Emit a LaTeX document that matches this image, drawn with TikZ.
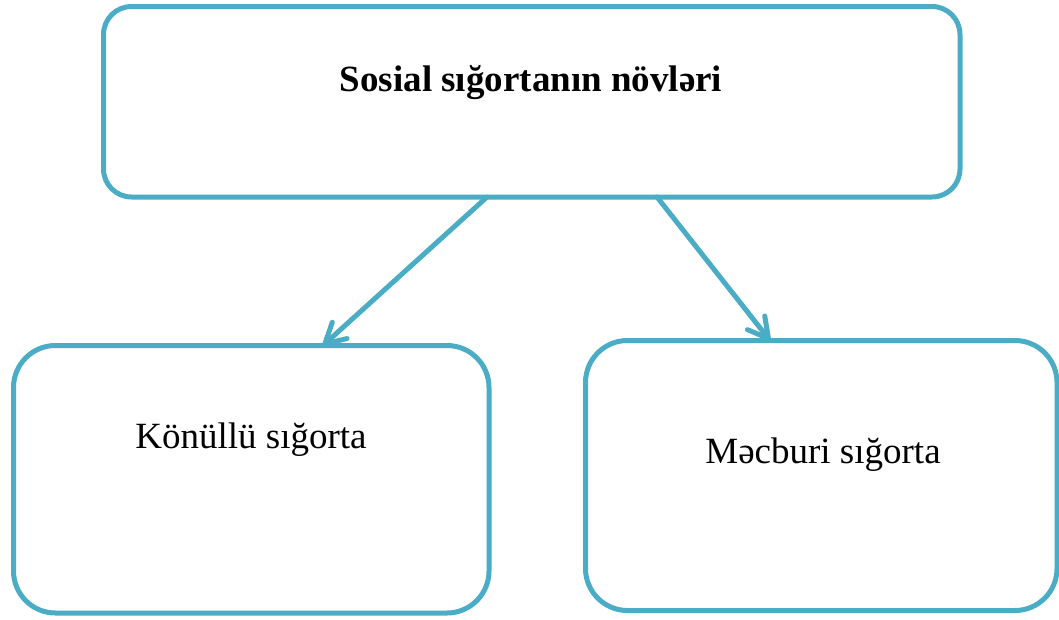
\documentclass[tikz,border=0pt]{standalone}
\usepackage{fontspec}
\setmainfont{Liberation Serif}
\usetikzlibrary{arrows.meta}
\definecolor{accent}{HTML}{4BACC6}
\tikzset{
  box/.style={draw=accent, line width=5pt, rounded corners=#1, outer sep=0pt,
              inner sep=0pt, fill=white},
  caption/.style={font=\fontsize{37}{44}\selectfont, inner sep=0pt, anchor=center},
  link/.style={draw=accent, line width=5pt, line cap=round,
               -{Straight Barb[length=20pt, width=22pt, line width=5pt, round]}},
}
\begin{document}
\begin{tikzpicture}[x=1pt, y=-1pt]
  \useasboundingbox (0,0) rectangle (1059,619);

  % boxes
  \node[box=28pt, minimum width=856.5pt, minimum height=190.5pt] (top)   at (531.75,101.75) {};
  \node[box=42pt, minimum width=475.5pt, minimum height=267.5pt] (left)  at (251.25,479.25) {};
  \node[box=42pt, minimum width=471.5pt, minimum height=270pt]   (right) at (821.25,475.5) {};

  % labels
  \node[caption, font=\fontsize{37}{44}\selectfont\bfseries] (toptext) at (531,83) {Sosial sığortanın növləri};
  \node[caption] (lefttext)  at (251,440) {Könüllü sığorta};
  \node[caption] (righttext) at (823,455) {Məcburi sığorta};

  % connectors
  \draw[link] ([xshift=-44.75pt]top.south) -- ([xshift=71.75pt]left.north);
  \draw[link] ([xshift=125.25pt]top.south) -- ([xshift=-51.25pt]right.north);
\end{tikzpicture}
\end{document}
